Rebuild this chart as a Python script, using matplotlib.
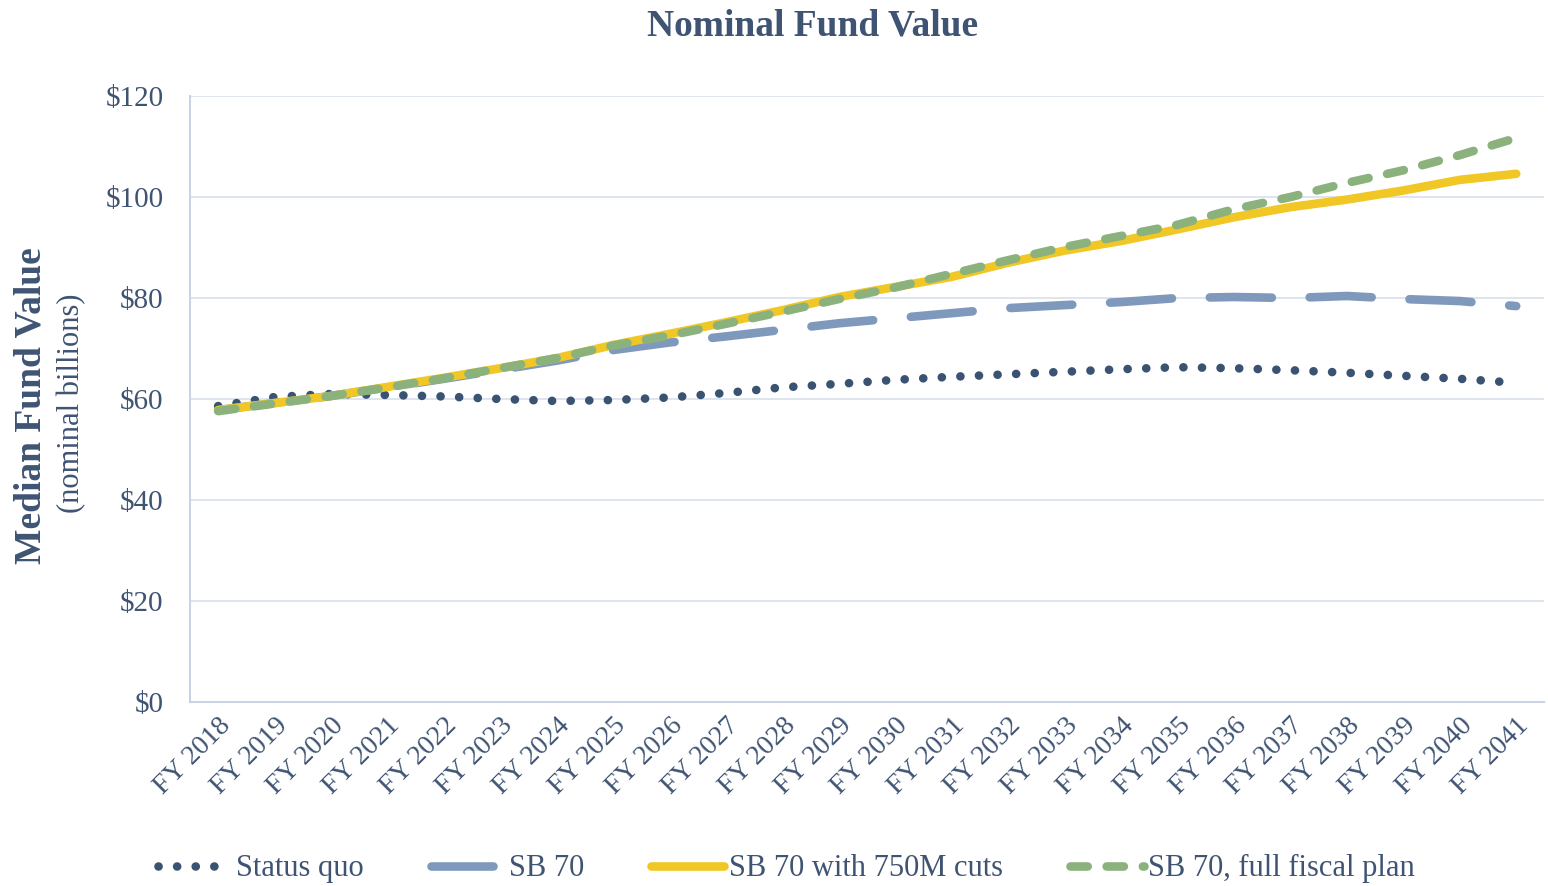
import matplotlib.pyplot as plt

years = [f"FY {y}" for y in range(2018, 2042)]

status_quo = [58.6, 60.4, 61.0, 60.8, 60.5, 60.0, 59.6, 59.8, 60.3, 61.2, 62.3, 63.0,
              63.8, 64.4, 64.9, 65.4, 65.9, 66.3, 66.1, 65.7, 65.2, 64.6, 64.0, 63.2]
sb70 = [57.8, 59.2, 60.6, 62.3, 64.0, 65.8, 67.6, 69.7, 71.2, 72.4, 73.7, 75.0,
        76.0, 77.0, 78.0, 78.6, 79.2, 80.0, 80.2, 80.0, 80.4, 79.8, 79.4, 78.4]
sb70_cuts = [57.8, 59.2, 60.6, 62.4, 64.2, 66.1, 68.1, 70.7, 72.9, 75.2, 77.6, 80.2,
             82.2, 84.2, 87.0, 89.4, 91.3, 93.6, 96.0, 98.0, 99.5, 101.3, 103.4, 104.6]
sb70_full = [57.6, 59.1, 60.6, 62.3, 64.1, 66.1, 68.1, 70.6, 72.6, 74.9, 77.3, 79.8,
             82.1, 84.8, 87.5, 90.1, 92.3, 94.5, 97.6, 100.0, 102.8, 105.3, 108.3, 111.7]

txt = '#3F5373'
plt.rcParams['font.family'] = ['Liberation Serif', 'DejaVu Serif']

fig = plt.figure(figsize=(15.48, 8.86), dpi=100)
ax = fig.add_axes([0.1227, 0.2077, 0.875, 0.6839])

x = list(range(len(years)))
lw = 6.2
ax.plot(x, status_quo, color='#3B5372', lw=lw, linestyle=(0, (0.01, 2.15)),
        dash_capstyle='round', label='Status quo', zorder=3)
ax.plot(x, sb70, color='#7F99BD', lw=lw, linestyle=(0, (7.2, 4.4)),
        dash_capstyle='round', label='SB 70', zorder=4)
ax.plot(x, sb70_cuts, color='#F0C724', lw=lw, solid_capstyle='round',
        label='SB 70 with 750M cuts', zorder=5)
ax.plot(x, sb70_full, color='#8BB27D', lw=lw, linestyle=(0, (2.0, 2.2)),
        dash_capstyle='round', label='SB 70, full fiscal plan', zorder=6)

ax.set_xlim(-0.5, len(years) - 0.5)
ax.set_ylim(0, 120)
ax.set_yticks(range(0, 121, 20))
ax.set_yticklabels([f"${v}" for v in range(0, 121, 20)])
ax.set_xticks(x)
ax.set_xticklabels(years, rotation=45, ha='right', rotation_mode='anchor')
ax.tick_params(length=0, colors=txt)
ax.tick_params(axis='y', labelsize=21, pad=19)
ax.tick_params(axis='x', labelsize=20, pad=8)

ax.grid(axis='y', color='#DCE3EE', lw=1.3)
ax.set_axisbelow(True)
for s in ['top', 'right']:
    ax.spines[s].set_visible(False)
for s in ['left', 'bottom']:
    ax.spines[s].set_color('#C9D3E3')
    ax.spines[s].set_linewidth(1.5)

fig.text(0.525, 0.99, 'Nominal Fund Value', ha='center', va='top',
         fontsize=27, fontweight='bold', color=txt)
fig.text(0.020, 0.542, 'Median Fund Value', rotation=90, ha='center', va='center',
         fontsize=27, fontweight='bold', color=txt)
fig.text(0.046, 0.545, '(nominal billions)', rotation=90, ha='center', va='center',
         fontsize=22, color=txt)

leg = fig.legend(loc='lower center', bbox_to_anchor=(0.508, -0.028), ncol=4,
                 frameon=False, fontsize=22, handlelength=2.4, columnspacing=2.2,
                 handletextpad=0.15)
for t in leg.get_texts():
    t.set_color(txt)

fig.savefig('out.png', dpi=100)
